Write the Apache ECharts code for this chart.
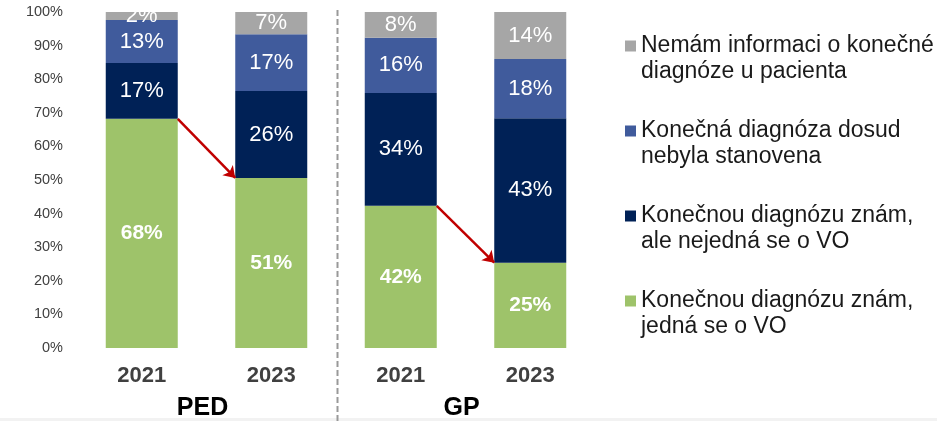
<!DOCTYPE html>
<html>
<head>
<meta charset="utf-8">
<title>Konečná diagnóza</title>
<script src="https://cdn.jsdelivr.net/npm/echarts@6/dist/echarts.min.js"></script>
<style>
html, body { margin: 0; padding: 0; background: #fff; }
#chart { width: 937px; height: 421px; }
</style>
</head>
<body>
<div id="chart"></div>
<script>
// data (shares in %, each bar sums to 100)
const years = ['2021', '2023', '2021', '2023'];
const groups = ['PED', 'GP'];
const knownVO = [68.2, 50.6, 42.3, 25.4];
const knownNotVO = [16.6, 25.9, 33.6, 43.0];
const notYet = [12.8, 16.9, 16.4, 17.6];
const noInfo = [2.4, 6.6, 7.7, 14.0];
// arrows: [from bar, to bar]
const arrowPairs = [[0, 1], [2, 3]];

const names = {
  noInfo: 'Nemám informaci o konečné diagnóze u pacienta',
  notYet: 'Konečná diagnóza dosud nebyla stanovena',
  knownNotVO: 'Konečnou diagnózu znám, ale nejedná se o VO',
  knownVO: 'Konečnou diagnózu znám, jedná se o VO'
}
// a leading empty line keeps the square level with the first text line
const legendText = {}
legendText[names.noInfo] = '\nNemám informaci o konečné\ndiagnóze u pacienta'
legendText[names.notYet] = '\nKonečná diagnóza dosud\nnebyla stanovena'
legendText[names.knownNotVO] = '\nKonečnou diagnózu znám,\nale nejedná se o VO'
legendText[names.knownVO] = '\nKonečnou diagnózu znám,\njedná se o VO'

const barWidth = 72
const gridPos = { left: 77, right: 342, top: 12, bottom: 73 }

function barSeries (name, data, color, bold) {
  return {
    name: name,
    type: 'bar',
    stack: 'total',
    barWidth: barWidth,
    data: data,
    itemStyle: { color: color },
    label: {
      show: true,
      position: 'inside',
      color: '#fff',
      fontSize: bold ? 21 : 22,
      fontWeight: bold ? 'bold' : 'normal',
      formatter: p => Math.round(p.value) + '%'
    }
  }
}

const chart = echarts.init(document.getElementById('chart'))
chart.setOption({
  animation: false,
  textStyle: { fontFamily: 'Liberation Sans, Arial, sans-serif' },
  grid: [
    Object.assign({}, gridPos),
    Object.assign({}, gridPos, { left: 73, right: 346 })
  ],
  legend: {
    orient: 'vertical',
    left: 625,
    top: 7,
    padding: 0,
    itemWidth: 11,
    itemHeight: 11,
    itemGap: 7,
    icon: 'rect',
    data: [names.noInfo, names.notYet, names.knownNotVO, names.knownVO],
    formatter: name => legendText[name],
    textStyle: {
      fontSize: 23,
      lineHeight: 26,
      color: '#1a1a1a'
    }
  },
  xAxis: [
    {
      type: 'category',
      gridIndex: 0,
      data: years,
      axisLine: { show: false },
      axisTick: { show: false },
      axisLabel: { margin: 17, fontSize: 22, fontWeight: 'bold', color: '#404040' }
    },
    {
      type: 'category',
      gridIndex: 1,
      data: groups,
      position: 'bottom',
      axisLine: { show: false },
      axisTick: { show: false },
      axisLabel: { margin: 49, fontSize: 25, fontWeight: 'bold', color: '#000' }
    }
  ],
  yAxis: [
    {
      type: 'value',
      gridIndex: 0,
      min: 0,
      max: 100,
      interval: 10,
      splitLine: { show: false },
      axisLine: { show: false },
      axisTick: { show: false },
      axisLabel: { formatter: '{value}%', fontSize: 14.5, color: '#404040', margin: 14 }
    },
    { type: 'value', gridIndex: 1, show: false, min: 0, max: 100 }
  ],
  series: [
    barSeries(names.knownVO, knownVO, '#9ec36a', true),
    barSeries(names.knownNotVO, knownNotVO, '#002156', false),
    barSeries(names.notYet, notYet, '#405b9c', false),
    barSeries(names.noInfo, noInfo, '#a6a6a6', false)
  ]
})

// arrows and separator are placed through the axes' own scales
const px = (i, v) => chart.convertToPixel({ gridIndex: 0 }, [i, v])
const arrows = arrowPairs.map(([a, b]) => {
  const p0 = px(a, knownVO[a])
  const p1 = px(b, knownVO[b])
  return [{ x: p0[0] + barWidth / 2, y: p0[1] }, { x: p1[0] - barWidth / 2, y: p1[1] }]
})
const sepX = (px(1, 0)[0] + px(2, 0)[0]) / 2 + 1.5

chart.setOption({
  series: [{
    name: names.knownVO,
    markLine: {
      silent: true,
      symbol: ['none', 'arrow'],
      symbolSize: 11,
      label: { show: false },
      lineStyle: { color: '#c00000', width: 2.5, type: 'solid' },
      data: arrows
    }
  }],
  graphic: [
    {
      type: 'rect',
      shape: { x: 0, y: 418, width: 937, height: 3 },
      style: { fill: '#f2f2f2' },
      z: -1
    },
    {
      type: 'line',
      shape: { x1: sepX, y1: 10, x2: sepX, y2: 421 },
      style: { stroke: '#999', lineWidth: 2, lineDash: [6, 3] }
    }
  ]
})
</script>
</body>
</html>
